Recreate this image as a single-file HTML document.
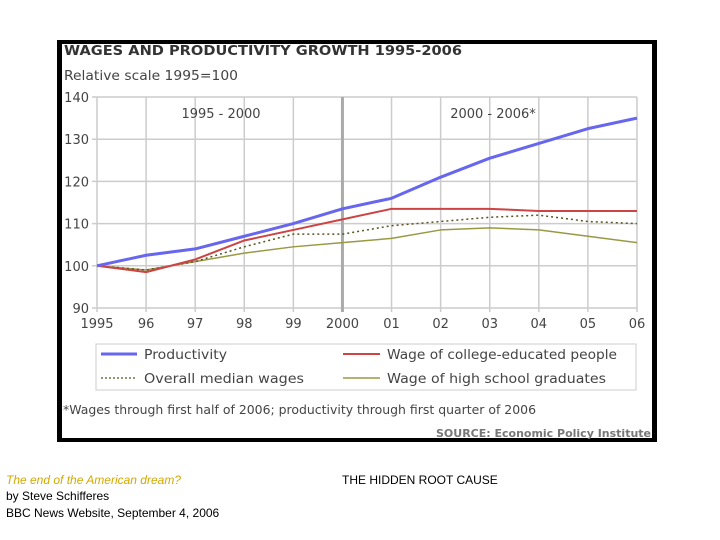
<!DOCTYPE html>
<html><head><meta charset="utf-8"><style>
body{margin:0;width:720px;height:540px;background:#fff;position:relative;overflow:hidden;font-family:"Liberation Sans",sans-serif}
.t{position:absolute;white-space:nowrap}
</style></head><body>
<div style="position:absolute;left:57px;top:40px;width:590px;height:394px;border:5px solid #000;border-top-width:4px;border-bottom-width:4px;border-right-width:5px;background:#fff"></div>
<svg width="720" height="540" style="position:absolute;left:0;top:0" font-family="DejaVu Sans, sans-serif">
<text x="64" y="55" font-size="13" font-weight="bold" fill="#333" textLength="398" lengthAdjust="spacingAndGlyphs">WAGES AND PRODUCTIVITY GROWTH 1995-2006</text>
<text x="64" y="80" font-size="13" fill="#444" textLength="174" lengthAdjust="spacingAndGlyphs">Relative scale 1995=100</text>
<g id="grid"></g>
<text x="221" y="118" font-size="13" fill="#444" text-anchor="middle">1995 - 2000</text>
<text x="493" y="118" font-size="13" fill="#444" text-anchor="middle">2000 - 2006*</text>
<g id="series"></g>
<rect x="96" y="344" width="540" height="46" fill="#fff" stroke="#ccc"/>
<line x1="101" y1="354" x2="137" y2="354" stroke="#6666ee" stroke-width="3"/>
<text x="144" y="359" font-size="13" fill="#444" textLength="83" lengthAdjust="spacingAndGlyphs">Productivity</text>
<line x1="343" y1="354" x2="380" y2="354" stroke="#cc4444" stroke-width="2"/>
<text x="387" y="359" font-size="13" fill="#444" textLength="230" lengthAdjust="spacingAndGlyphs">Wage of college-educated people</text>
<line x1="101" y1="378" x2="137" y2="378" stroke="#555522" stroke-width="1.3" stroke-dasharray="2,2"/>
<text x="144" y="383" font-size="13" fill="#444" textLength="160" lengthAdjust="spacingAndGlyphs">Overall median  wages</text>
<line x1="343" y1="378" x2="380" y2="378" stroke="#999944" stroke-width="1.5"/>
<text x="387" y="383" font-size="13" fill="#444" textLength="219" lengthAdjust="spacingAndGlyphs">Wage of high school graduates</text>
<text x="63" y="414" font-size="12" fill="#444" textLength="473" lengthAdjust="spacingAndGlyphs">*Wages through first half of 2006; productivity through first quarter of 2006</text>
<text x="651" y="437" font-size="11" font-weight="bold" fill="#777" text-anchor="end" textLength="215" lengthAdjust="spacingAndGlyphs">SOURCE: Economic Policy Institute</text>
</svg>
<div class="t" style="left:6px;top:473px;font-size:12px;font-style:italic;color:#d4a800">The end of the American dream?</div>
<div class="t" style="left:6px;top:489px;font-size:12px">by Steve Schifferes</div>
<div class="t" style="left:6px;top:506px;font-size:12px">BBC News Website, September 4, 2006</div>
<div class="t" style="left:342px;top:473px;font-size:12px">THE HIDDEN ROOT CAUSE</div>
<script>
const years=["1995","96","97","98","99","2000","01","02","03","04","05","06"];
const yTicks=[90,100,110,120,130,140];
const productivity=[100,102.5,104,107,110,113.5,116,121,125.5,129,132.5,135];
const college=[100,98.5,101.5,106,108.5,111,113.5,113.5,113.5,113,113,113];
const median=[100,99,101,104.5,107.5,107.5,109.5,110.5,111.5,112,110.5,110];
const highschool=[100,99,101,103,104.5,105.5,106.5,108.5,109,108.5,107,105.5];
const NS="http://www.w3.org/2000/svg";
const x0=97,x1=637,y0=308,y1=97;
function xs(i){return x0+(x1-x0)*i/(years.length-1);}
function ys(v){return y0-(v-90)/(140-90)*(y0-y1);}
function mk(tag,a,parent){const e=document.createElementNS(NS,tag);for(const k in a)e.setAttribute(k,a[k]);parent.appendChild(e);return e;}
const g=document.getElementById('grid');
yTicks.forEach(v=>{
 const l=mk('line',{x1:92,x2:x1,y1:ys(v),y2:ys(v),stroke:'#ccc','stroke-width':1.5},g);
 
 
 const t=mk('text',{x:89,y:ys(v)+5,'font-size':13,fill:'#444','text-anchor':'end'},g);
 t.textContent=v;
 
 
});
years.forEach((y,i)=>{
 const l=mk('line',{x1:xs(i),x2:xs(i),y1:y1,y2:y0+4,stroke:i===5?'#aaa':'#ccc','stroke-width':i===5?3:1.5},g);
 
 
 const t=mk('text',{x:xs(i),y:328,'font-size':13,fill:'#444','text-anchor':'middle'},g);
 t.textContent=y;
 
 
});
const s=document.getElementById('series');
function line(arr,st,name){
 const p=mk('polyline',Object.assign({points:arr.map((v,i)=>xs(i)+','+ys(v)).join(' '),fill:'none','stroke-linejoin':'round'},st),s);
 
 
}
line(highschool,{stroke:'#999944','stroke-width':1.5},'highschool-line');
line(median,{stroke:'#555522','stroke-width':1.5,'stroke-dasharray':'2,3'},'median-line');
line(college,{stroke:'#cc4444','stroke-width':2},'college-line');
line(productivity,{stroke:'#6666ee','stroke-width':3},'productivity-line');
</script>
</body></html>
